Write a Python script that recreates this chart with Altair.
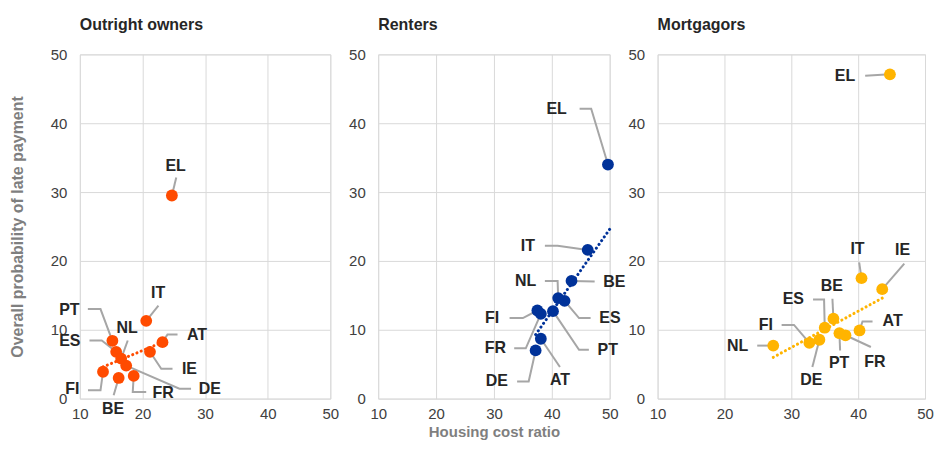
import altair as alt
import pandas as pd

# ---------------- data ----------------
own_countries = ["AT", "BE", "DE", "EL", "ES", "FI", "FR", "IE", "IT", "NL", "PT"]
own_x = [23.2, 16.2, 17.4, 24.7, 15.8, 13.7, 18.6, 21.2, 20.6, 16.6, 15.2]
own_y = [8.2, 3.0, 4.8, 29.5, 6.8, 3.9, 3.3, 6.8, 11.3, 5.8, 8.4]

rent_countries = ["AT", "BE", "DE", "EL", "ES", "FI", "FR", "IT", "NL", "PT"]
rent_x = [38.1, 43.4, 37.2, 49.7, 42.2, 37.5, 38.1, 46.2, 41.1, 40.2]
rent_y = [8.7, 17.1, 7.0, 34.0, 14.2, 12.8, 12.3, 21.6, 14.6, 12.7]

mort_countries = ["AT", "BE", "DE", "EL", "ES", "FI", "FR", "IE", "IT", "NL", "PT"]
mort_x = [40.2, 36.3, 34.2, 44.75, 35.0, 32.7, 38.1, 43.6, 40.5, 27.3, 37.2]
mort_y = [9.9, 11.6, 8.55, 47.1, 10.3, 8.1, 9.2, 15.9, 17.5, 7.7, 9.5]

# trend-line end points
own_trend_x = [13.7, 23.2]
own_trend_y = [4.6, 8.2]
rent_trend_x = [37.2, 50.0]
rent_trend_y = [9.3, 24.6]
mort_trend_x = [27.3, 43.6]
mort_trend_y = [6.0, 14.6]

x_ticks = [10, 20, 30, 40, 50]
y_ticks = [0, 10, 20, 30, 40, 50]

# label annotations: country -> (text x, text y, align, elbow x, elbow y, end x, end y)
own_labels = {
    "EL": (25.3, 33.8, "center", 25.4, 32.1, 25.4, 32.1),
    "IT": (22.5, 15.4, "center", 22.55, 13.5, 22.55, 13.5),
    "PT": (9.95, 12.9, "right", 13.3, 13.0, 11.28, 13.0),
    "ES": (10.1, 8.44, "right", 13.5, 8.44, 11.54, 8.44),
    "NL": (17.55, 10.3, "center", 17.65, 8.44, 17.65, 8.44),
    "AT": (27.1, 9.31, "left", 24.0, 9.31, 25.6, 9.31),
    "IE": (26.3, 4.34, "left", 23.0, 4.34, 24.8, 4.34),
    "DE": (29.0, 1.45, "left", 25.9, 1.45, 27.76, 1.45),
    "FR": (21.6, 0.85, "left", 18.45, 0.96, 20.6, 0.96),
    "BE": (15.3, -1.45, "center", 15.4, 0.48, 15.4, 0.48),
    "FI": (9.95, 1.45, "right", 13.3, 1.2, 11.3, 1.2),
}
rent_labels = {
    "EL": (42.6, 42.1, "right", 46.8, 42.1, 44.8, 42.1),
    "IT": (37.1, 22.2, "right", 41.0, 22.2, 38.8, 22.2),
    "NL": (37.3, 17.1, "right", 41.0, 17.1, 38.8, 17.1),
    "BE": (48.9, 17.0, "left", 47.4, 17.0, 47.4, 17.0),
    "FI": (30.9, 11.7, "right", 35.0, 11.7, 32.7, 11.7),
    "ES": (48.2, 11.7, "left", 44.7, 11.7, 46.7, 11.7),
    "FR": (32.1, 7.3, "right", 35.5, 7.3, 33.5, 7.3),
    "PT": (47.9, 7.1, "left", 44.7, 7.1, 46.4, 7.1),
    "DE": (32.4, 2.5, "right", 36.0, 2.5, 34.0, 2.5),
    "AT": (41.4, 2.65, "center", 41.4, 4.6, 41.4, 4.6),
}
mort_labels = {
    "EL": (39.55, 46.9, "right", 41.05, 46.9, 41.05, 46.9),
    "IT": (39.9, 21.7, "center", 40.15, 19.8, 40.15, 19.8),
    "IE": (46.65, 21.6, "center", 46.9, 19.6, 46.9, 19.6),
    "BE": (36.05, 16.4, "center", 36.15, 14.5, 36.15, 14.5),
    "ES": (31.9, 14.4, "right", 34.9, 14.4, 33.25, 14.4),
    "FI": (27.25, 10.7, "right", 30.4, 10.7, 28.55, 10.7),
    "NL": (23.55, 7.7, "right", 24.9, 7.7, 24.9, 7.7),
    "AT": (43.65, 11.2, "left", 40.65, 11.2, 42.15, 11.2),
    "DE": (33.0, 2.66, "center", 33.15, 4.6, 33.15, 4.6),
    "PT": (37.15, 5.1, "center", 37.3, 7.0, 37.3, 7.0),
    "FR": (42.5, 5.3, "center", 41.9, 7.5, 41.9, 7.5),
}

LABEL_FONT = "Liberation Sans"
GRID = "#D9D9D9"


def panel(title, countries, xs, ys, tx, ty, labels, color, width,
          y_title=None, x_title=None):
    pts = pd.DataFrame({"country": countries, "x": xs, "y": ys})
    trend = pd.DataFrame({"x": tx, "y": ty})
    lead_rows = []
    text_rows = []
    for c, px, py in zip(countries, xs, ys):
        t = labels[c]
        lead_rows.append({"country": c, "o": 0, "x": px, "y": py})
        lead_rows.append({"country": c, "o": 1, "x": t[3], "y": t[4]})
        lead_rows.append({"country": c, "o": 2, "x": t[5], "y": t[6]})
        text_rows.append({"country": c, "x": t[0], "y": t[1], "align": t[2]})
    leads = pd.DataFrame(lead_rows)
    texts = pd.DataFrame(text_rows)

    xaxis_kw = dict(values=x_ticks, grid=True, gridColor=GRID, domain=False,
                    ticks=False, tickSize=0, labelFlush=False, labelOverlap=False,
                    labelPadding=8, labelFontSize=15, labelColor="#404040",
                    labelFont=LABEL_FONT)
    yaxis_kw = dict(values=y_ticks, grid=True, gridColor=GRID, domain=False,
                    ticks=False, tickSize=0, labelOverlap=False,
                    labelPadding=13, labelFontSize=15, labelColor="#404040",
                    labelFont=LABEL_FONT)
    if x_title:
        xaxis_kw.update(titleFontSize=15, titleColor="#7F7F7F",
                        titleFontWeight="bold", titleFont=LABEL_FONT,
                        titlePadding=3)
    if y_title:
        yaxis_kw.update(titleFontSize=16, titleColor="#7F7F7F",
                        titleFontWeight="bold", titleFont=LABEL_FONT,
                        titlePadding=25)

    X = alt.X("x:Q", scale=alt.Scale(domain=[10, 50], nice=False),
              axis=alt.Axis(**xaxis_kw), title=x_title)
    Y = alt.Y("y:Q", scale=alt.Scale(domain=[0, 50], nice=False),
              axis=alt.Axis(**yaxis_kw), title=y_title)

    trend_l = alt.Chart(trend).mark_line(
        color=color, strokeWidth=3, strokeDash=[0.1, 4.5], strokeCap="round"
    ).encode(x=X, y=Y)
    lead_l = alt.Chart(leads).mark_line(color="#A6A6A6", strokeWidth=2).encode(
        x=X, y=Y, detail="country:N", order=alt.Order("o:Q"))
    pt_l = alt.Chart(pts).mark_circle(size=140, opacity=1, color=color).encode(x=X, y=Y)
    layers = [trend_l, lead_l, pt_l]
    for al in ["left", "right", "center"]:
        layers.append(
            alt.Chart(texts).transform_filter(alt.datum.align == al).mark_text(
                align=al, baseline="middle", fontSize=16, fontWeight="bold",
                font=LABEL_FONT, color="#262626"
            ).encode(x=X, y=Y, text="country:N")
        )
    return alt.layer(*layers).properties(
        width=width, height=345,
        title=alt.TitleParams(title, anchor="start", frame="group", fontSize=16,
                              fontWeight="bold", font=LABEL_FONT, color="#262626",
                              offset=14),
    )


p1 = panel("Outright owners", own_countries, own_x, own_y, own_trend_x, own_trend_y,
           own_labels, "#FF4B00", 251, y_title="Overall probability of late payment")
p2 = panel("Renters", rent_countries, rent_x, rent_y, rent_trend_x, rent_trend_y,
           rent_labels, "#003299", 232, x_title="Housing cost ratio")
p3 = panel("Mortgagors", mort_countries, mort_x, mort_y, mort_trend_x, mort_trend_y,
           mort_labels, "#FFB400", 268)

chart = alt.hconcat(p1, p2, p3, spacing=48, bounds="flush").properties(
    padding={"left": 0, "top": 8, "right": 0, "bottom": 0}
).configure_view(strokeWidth=0).configure(background="white")

chart.save("out.html", embed_options={"renderer": "svg", "actions": False})
